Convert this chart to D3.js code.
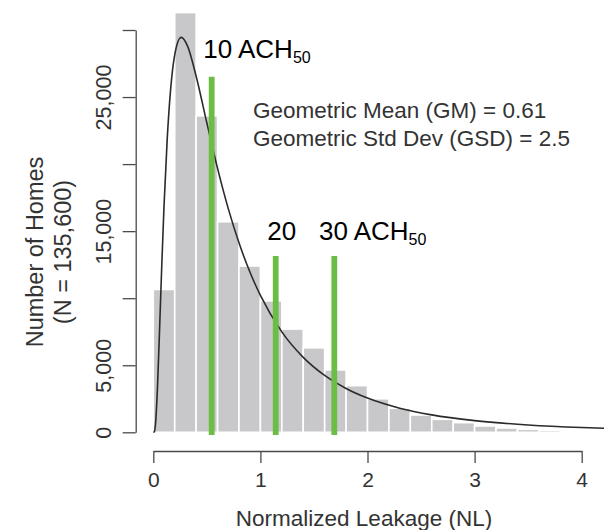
<!DOCTYPE html>
<html>
<head>
<meta charset="utf-8">
<script src="https://cdn.jsdelivr.net/npm/d3@7"></script>
<style>
  body { margin: 0; background: #fff; }
  svg { display: block; font-family: "Liberation Sans", Arial, Helvetica, sans-serif; }
</style>
</head>
<body>
<svg width="604" height="530"></svg>
<script>
// histogram bins (left edge, NL) and counts
var binLo = [0, 0.2, 0.4, 0.6, 0.8, 1.0, 1.2, 1.4, 1.6, 1.8, 2.0, 2.2, 2.4, 2.6, 2.8, 3.0, 3.2, 3.4, 3.6];
var counts = [10650, 31300, 23600, 15700, 12400, 9800, 7700, 6300, 4650, 3480, 2500, 1790, 1290, 970, 720, 470, 320, 225, 150];
var binWidth = 0.2;

// fitted lognormal curve
var curveX = [0, 0.01, 0.02, 0.04, 0.06, 0.08, 0.1, 0.13, 0.16, 0.2, 0.26, 0.32, 0.4, 0.5, 0.6, 0.7, 0.8, 0.9, 1.0, 1.2, 1.4, 1.6, 1.8, 2.0, 2.3, 2.6, 3.0, 3.5, 4.0, 4.25];
var curveY = [0, 50, 560, 3550, 8000, 12640, 16850, 21880, 25400, 28150, 29450, 28800, 26550, 23070, 19680, 16680, 14130, 11990, 10210, 7490, 5590, 4240, 3270, 2550, 1800, 1300, 870, 550, 360, 295];

// ACH50 reference lines
var achNL = [0.545, 1.143, 1.69];
var achTop = [26520, 13150, 13150];
var achLabel = ["10 ACH", "20", "30 ACH"];
var achSub = ["50", "", "50"];

var xTicks = [0, 1, 2, 3, 4];
var yTicks = [0, 5000, 10000, 15000, 20000, 25000, 30000];
var yLabeled = [0, 5000, 15000, 25000];

var svg = d3.select("svg");

var x = d3.scaleLinear().domain([0, 4]).range([153.3, 581.7]);
var y = d3.scaleLinear().domain([0, 30000]).range([432.3, 30]);

// bars
svg.append("g")
    .selectAll("rect")
    .data(counts)
    .enter().append("rect")
    .attr("x", function(d, i) { return x(binLo[i]); })
    .attr("y", function(d) { return y(d); })
    .attr("width", function(d, i) { return x(binLo[i] + binWidth) - x(binLo[i]); })
    .attr("height", function(d) { return y(0) - y(d); })
    .attr("fill", "#c8c8ca")
    .attr("stroke", "#fff")
    .attr("stroke-width", 1.6);

// density curve
var line = d3.line()
    .x(function(d, i) { return x(curveX[i]); })
    .y(function(d) { return y(d); })
    .curve(d3.curveMonotoneX);

svg.append("path")
    .datum(curveY)
    .attr("d", line)
    .attr("fill", "none")
    .attr("stroke", "#2b2b2b")
    .attr("stroke-width", 1.6);

// green lines
svg.append("g")
    .selectAll("line")
    .data(achNL)
    .enter().append("line")
    .attr("x1", function(d) { return x(d); })
    .attr("x2", function(d) { return x(d); })
    .attr("y1", y(-200))
    .attr("y2", function(d, i) { return y(achTop[i]); })
    .attr("stroke", "#6cbd45")
    .attr("stroke-width", 5.8);

// ACH labels
var labelX = [x(achNL[0]) - 8.4, x(achNL[1]) - 8.4, x(achNL[2]) - 15.3];
var labelY = [58.3, 240, 240];
achLabel.forEach(function(t, i) {
    var txt = svg.append("text")
        .attr("x", labelX[i])
        .attr("y", labelY[i])
        .attr("font-size", 26)
        .attr("fill", "#000")
        .text(t);
    if (achSub[i]) {
        txt.append("tspan")
            .attr("dy", 5)
            .attr("font-size", 16)
            .text(achSub[i]);
    }
});

// stats text
svg.append("text")
    .attr("x", 253).attr("y", 118.3)
    .attr("font-size", 22.5).attr("fill", "#333")
    .text("Geometric Mean (GM) = 0.61");
svg.append("text")
    .attr("x", 253).attr("y", 146.3)
    .attr("font-size", 22.5).attr("fill", "#333")
    .text("Geometric Std Dev (GSD) = 2.5");

// x axis
var xAxis = svg.append("g")
    .attr("transform", "translate(0,451)")
    .call(d3.axisBottom(x).tickValues(xTicks).tickSize(12).tickSizeOuter(0).tickFormat(d3.format("d")));
xAxis.selectAll("text")
    .attr("y", 35.7).attr("dy", 0)
    .attr("font-size", 21).attr("fill", "#333");

// y axis
var yAxis = svg.append("g")
    .attr("transform", "translate(135.7,0)")
    .call(d3.axisLeft(y).tickValues(yTicks).tickSize(13).tickSizeOuter(0)
        .tickFormat(function(d) { return yLabeled.indexOf(d) >= 0 ? d3.format(",")(d) : ""; }));
yAxis.selectAll("text")
    .attr("transform", "rotate(-90)")
    .attr("x", 0).attr("y", -24.7).attr("dy", 0)
    .attr("text-anchor", "middle")
    .attr("font-size", 21.5).attr("fill", "#333");

svg.selectAll(".domain, .tick line")
    .attr("stroke", "#4a4a4a")
    .attr("stroke-width", 1.3);

// axis titles
svg.append("text")
    .attr("x", 364).attr("y", 526)
    .attr("text-anchor", "middle")
    .attr("font-size", 22.5).attr("fill", "#333")
    .text("Normalized Leakage (NL)");

svg.append("text")
    .attr("transform", "translate(43,252) rotate(-90)")
    .attr("text-anchor", "middle")
    .attr("font-size", 23.5).attr("fill", "#333")
    .text("Number of Homes");
svg.append("text")
    .attr("transform", "translate(71,252) rotate(-90)")
    .attr("text-anchor", "middle")
    .attr("font-size", 23.5).attr("fill", "#333")
    .text("(N = 135,600)");
</script>
</body>
</html>
